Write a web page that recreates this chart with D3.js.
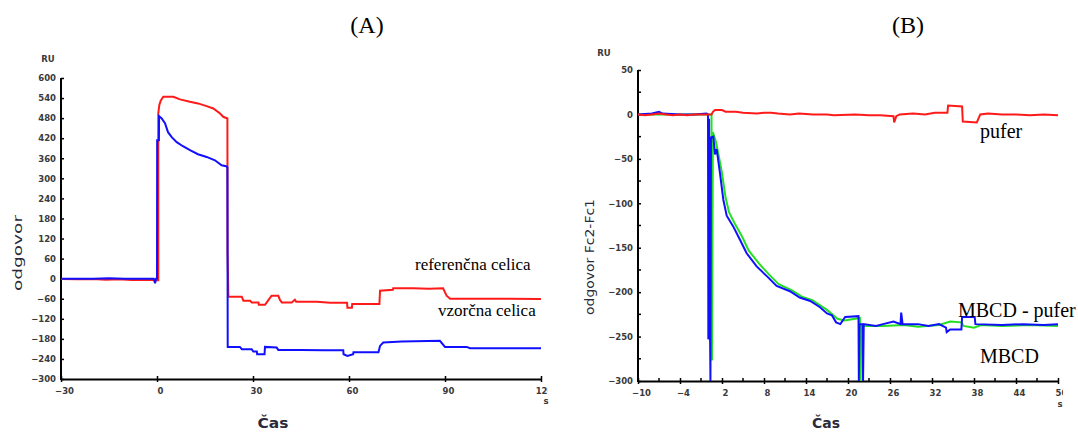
<!DOCTYPE html>
<html>
<head>
<meta charset="utf-8">
<script src="https://cdn.jsdelivr.net/npm/d3@7"></script>
<style>
  html, body { margin: 0; padding: 0; background: #fff; }
  svg { display: block; }
</style>
</head>
<body>
<svg id="chart" width="1078" height="432"></svg>
<script>
// ---------------- DATA ----------------
// Panel A (t in s, response in RU)
const xTicksA = [-30, 0, 30, 60, 90, 120];
const yTicksA = [600, 540, 480, 420, 360, 300, 240, 180, 120, 60, 0, -60, -120, -180, -240, -300];

const referencnaCelica = [
  [-30,-1],[-25,-2],[-20,-1],[-16,-3],[-12,-2],[-8,-4],[-5,-3],[-2,-4],[0,-5],[0.4,-5],
  [0.4,494],[0.72,519],[1.16,532],[1.97,544],[5.1,544],[7.2,536],[10.3,529],[12.8,524],
  [15.5,516],[17.6,509],[19.7,494],[20.7,484],[22.0,479],[22.05,79],[22.3,-54],
  [26.5,-54],[27,-66],[29.1,-66],[29.6,-71],[31.7,-71],[31.8,-78],[33.75,-78],[34.3,-71],
  [35.8,-51],[37.9,-51],[38.4,-63],[39,-71],[42.1,-71],[43.1,-63],[43.5,-69],[50,-69],
  [54.1,-72],[59.4,-72],[59.5,-87],[60.9,-87],[61,-76],[69.5,-76],[69.7,-36],[73.7,-33],
  [73.8,-29],[80,-29],[85,-30],[89.4,-29],[90.5,-51],[91.6,-60],[100,-60],[110,-60],[120,-61]
];

const vzorcnaCelica = [
  [-30,0],[-20,0],[-15,1],[-10,0],[-5,0],[-1,0],[-0.6,-14],[-0.3,0],[0,0],
  [0.05,414],[0.6,414],[0.65,486],[1.47,479],[2.5,465],[3.44,438],[4.6,423],[6.16,408],
  [8.1,396],[10.3,384],[12.8,372],[15.5,364],[18.1,354],[20.2,339],[21.6,336],[22.0,333],
  [22.1,-204],[25.9,-204],[26.5,-211],[29.6,-211],[30.1,-218],[31.2,-218],[31.3,-226],
  [33.6,-226],[33.75,-204],[37.4,-206],[37.9,-213],[45,-213],[52,-214],[58.2,-214],
  [58.3,-226],[59.5,-231],[61.3,-226],[61.4,-220],[69.2,-220],[69.7,-201],[70.7,-191],
  [76.5,-188],[88.4,-186],[90,-204],[96.8,-204],[97.8,-208],[110,-208],[120,-208]
];

// Panel B (t in s, response Fc2-Fc1 in RU)
const xTicksB = [-10, -4, 2, 8, 14, 20, 26, 32, 38, 44, 50];
const xMinorB = [-7, -1, 5, 11, 17, 23, 29, 35, 41, 47];
const yTicksB = [50, 0, -50, -100, -150, -200, -250, -300];
const yMinorB = [25, -25, -75, -125, -175, -225, -275];

const pufer = [
  [-10,0],[-9,-1],[-8,0],[-7,1],[-6,0],[-5,-1],[-4,0],[-3,-1],[-2,0],[-1,0],[0.5,0],
  [0.7,3],[1,5],[2,5],[2.5,3],[4,3],[5,2],[7,1],[8,2],[9,2],[10,1],[11.7,0],[13,1],
  [15,0],[17,0],[18,-1],[21,0],[23,-1],[24.6,-1],[26.5,-2],[26.6,-9],[26.9,-2],
  [27.4,0],[29.3,1],[31,0],[32.4,2],[34.2,2],[34.3,10],[36.3,9],[36.4,-8],[38.4,-9],
  [38.9,0],[40,1],[42,0],[44,0],[46,-1],[48,0],[50,-1]
];

const mbcd = [
  [-10,0],[-8,1],[-7,3],[-6.5,1],[-4,0],[-2,0],[-0.2,1],[0,0],[0.05,-253],[0.15,-5],
  [0.25,-253],[0.3,-253],[0.35,-300],[0.42,-26],[0.76,-25],[1.0,-45],[1.24,-39],[1.71,-66],
  [2.19,-96],[2.67,-114],[3.6,-126],[4.57,-141],[5.5,-156],[6.95,-171],[8.4,-182],
  [9.8,-193],[11.7,-199],[13.1,-206],[14.6,-210],[16,-217],[17.0,-224],[17.7,-226],
  [18.3,-234],[18.9,-236],[19.6,-228],[21.5,-227],[21.55,-300],[21.65,-236],[22.1,-236],
  [22.15,-300],[22.25,-236],[24,-238],[25,-236],[26.5,-233],[27.5,-236],[27.6,-223],
  [27.8,-236],[30,-236],[31.5,-238],[33,-236],[34,-240],[34.1,-245],[34.6,-242],
  [36.2,-242],[36.3,-228],[38.1,-228],[38.2,-236],[42,-237],[45,-236],[48,-237],[50,-236]
];

const mbcdMinusPufer = [
  [-10,0],[-5,0],[0,0],[0.5,0],[0.57,-277],[0.7,-20],[1.1,-30],[1.5,-45],[2.0,-66],
  [2.5,-93],[3.0,-110],[3.9,-124],[4.9,-138],[5.8,-153],[7.3,-168],[8.7,-180],[10.1,-191],
  [12,-198],[13.4,-205],[14.9,-209],[17,-220],[18.5,-230],[19.5,-232],[21.7,-229],
  [21.8,-300],[21.9,-238],[25,-238],[28,-237],[30,-239],[33,-237],[34.6,-233],
  [36.2,-234],[36.5,-238],[38,-240],[39,-237],[42,-238],[46,-237],[50,-238]
];

// ---------------- DRAW ----------------
const svg = d3.select("#chart");
const tickFont = "'DejaVu Sans', sans-serif";
const tickColor = "#3a3a3a";
const serif = "'Liberation Serif', 'Times New Roman', serif";

const xA = d3.scaleLinear().domain([-30, 120]).range([61, 541]);
const yA = d3.scaleLinear().domain([-300, 600]).range([379, 78]);
const xB = d3.scaleLinear().domain([-10, 50]).range([638, 1058]);
const yB = d3.scaleLinear().domain([-300, 50]).range([381, 70]);

const defs = svg.append("defs");
defs.append("clipPath").attr("id", "clipAx").append("rect")
  .attr("x", 0).attr("y", -10).attr("width", 548).attr("height", 40);
defs.append("clipPath").attr("id", "clipBx").append("rect")
  .attr("x", 560).attr("y", -10).attr("width", 503).attr("height", 40);

function styleAxis(g) {
  g.select(".domain").attr("stroke", "#000").attr("stroke-width", 2);
  g.selectAll(".tick line").attr("stroke", "#000").attr("stroke-width", 1.5);
  g.selectAll(".tick text")
    .attr("font-family", tickFont).attr("font-weight", "bold")
    .attr("font-size", 8.5).attr("fill", tickColor);
}

function drawPanel(x, y, xTicks, yTicks, xMinor, yMinor, clipId) {
  const gx = svg.append("g")
    .attr("transform", `translate(0,${y.range()[0]})`)
    .call(d3.axisBottom(x).tickValues(xTicks).tickSizeInner(3).tickSizeOuter(0)
      .tickPadding(6).tickFormat(d3.format("d")));
  styleAxis(gx);
  gx.selectAll(".tick line").attr("y1", -3);
  gx.selectAll(".tick text").attr("dx", 3);
  gx.attr("clip-path", `url(#${clipId})`);
  if (xMinor) {
    gx.selectAll(".minor").data(xMinor).enter().append("line")
      .attr("x1", d => x(d)).attr("x2", d => x(d))
      .attr("y1", -3).attr("y2", 0).attr("stroke", "#000").attr("stroke-width", 1.5);
  }
  const gy = svg.append("g")
    .attr("transform", `translate(${x.range()[0]},0)`)
    .call(d3.axisLeft(y).tickValues(yTicks).tickSizeInner(-3).tickSizeOuter(0)
      .tickPadding(5).tickFormat(d3.format("d")));
  styleAxis(gy);
  gy.select(".domain").attr("d", `M0,${y.range()[1]}V${y.range()[0] + 1}`);
  if (yMinor) {
    gy.selectAll(".minor").data(yMinor).enter().append("line")
      .attr("x1", 0).attr("x2", 3)
      .attr("y1", d => y(d)).attr("y2", d => y(d))
      .attr("stroke", "#000").attr("stroke-width", 1.5);
  }
}

drawPanel(xA, yA, xTicksA, yTicksA, null, null, "clipAx");
drawPanel(xB, yB, xTicksB, yTicksB, xMinorB, yMinorB, "clipBx");

function drawLine(data, x, y, color) {
  const line = d3.line().x(d => x(d[0])).y(d => y(d[1]));
  svg.append("path").datum(data)
    .attr("d", line)
    .attr("fill", "none")
    .attr("stroke", color)
    .attr("stroke-width", 2)
    .attr("stroke-linejoin", "miter");
}

drawLine(referencnaCelica, xA, yA, "#ff1a1a");
drawLine(vzorcnaCelica, xA, yA, "#1010ff");

drawLine(mbcdMinusPufer, xB, yB, "#22e022");
drawLine(mbcd, xB, yB, "#1010ff");
drawLine(pufer, xB, yB, "#ff1a1a");

// ---------------- TEXT ----------------
function smallText(txt, x, y, anchor) {
  svg.append("text").attr("x", x).attr("y", y).attr("text-anchor", anchor || "middle")
    .attr("font-family", tickFont).attr("font-weight", "bold").attr("font-size", 8.5)
    .attr("fill", tickColor).text(txt);
}
smallText("RU", 48, 62);
smallText("RU", 604, 56);
smallText("s", 546, 404);
smallText("s", 1060, 407);

function axisTitle(txt, x, y, rotate, len, weight, size) {
  const t = svg.append("text")
    .attr("text-anchor", "middle")
    .attr("font-family", tickFont).attr("font-size", size || 13)
    .attr("font-weight", weight || "normal")
    .attr("fill", "#2a2a3a")
    .attr("transform", `translate(${x},${y})` + (rotate ? " rotate(-90)" : ""))
    .text(txt);
  if (len) t.attr("textLength", len).attr("lengthAdjust", "spacingAndGlyphs");
}
axisTitle("odgovor", 22, 253, true, 76);
axisTitle("odgovor Fc2-Fc1", 594, 257, true, 116);
axisTitle("Čas", 273, 428, false, 31, "bold", 14);
axisTitle("Čas", 826, 428, false, 28, "bold", 14);

function serifText(txt, x, y, size, anchor) {
  svg.append("text").attr("x", x).attr("y", y).attr("text-anchor", anchor || "start")
    .attr("font-family", serif).attr("font-size", size).attr("fill", "#000").text(txt);
}
serifText("(A)", 367, 33, 24, "middle");
serifText("(B)", 908, 33, 24, "middle");
serifText("referenčna celica", 415, 270, 17);
serifText("vzorčna celica", 438, 316, 17);
serifText("pufer", 980, 138, 20);
serifText("MBCD - pufer", 958, 317, 20);
serifText("MBCD", 980, 363, 20);
</script>
</body>
</html>
